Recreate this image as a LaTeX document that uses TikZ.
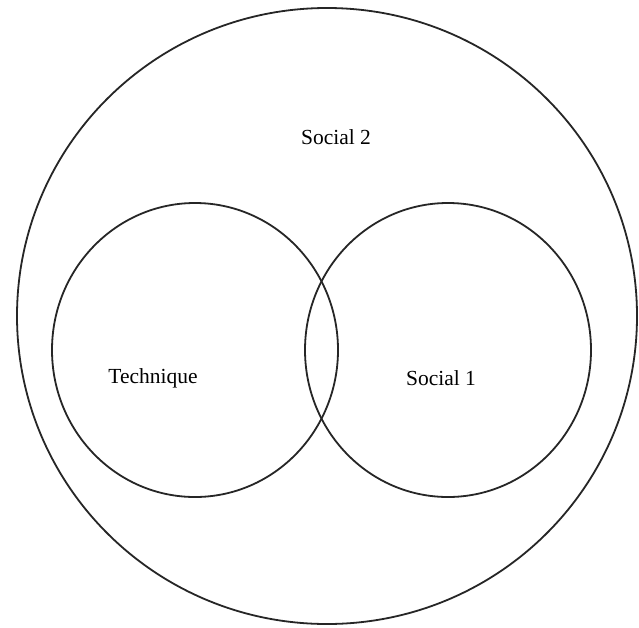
\documentclass[tikz,border=0pt]{standalone}
\usepackage{fontspec}
\setmainfont{Liberation Serif}
\begin{document}
\begin{tikzpicture}[x=1pt,y=-1pt,
  ring/.style={draw=black!85,line width=1.8pt},
  lbl/.style={font=\fontsize{21.5}{24}\selectfont,inner sep=0pt}]
\useasboundingbox (0,0) rectangle (639,627);
\fill[white] (0,0) rectangle (639,627);
\draw[ring] (327,316) ellipse [x radius=310, y radius=308];
\draw[ring] (195,350) ellipse [x radius=143, y radius=147];
\draw[ring] (448,350) ellipse [x radius=143, y radius=147];
\node[lbl] (s2) at (336,137) {Social 2};
\node[lbl] (tech) at (153,378) {Technique};
\node[lbl] (s1) at (441,378) {Social 1};
\end{tikzpicture}
\end{document}
